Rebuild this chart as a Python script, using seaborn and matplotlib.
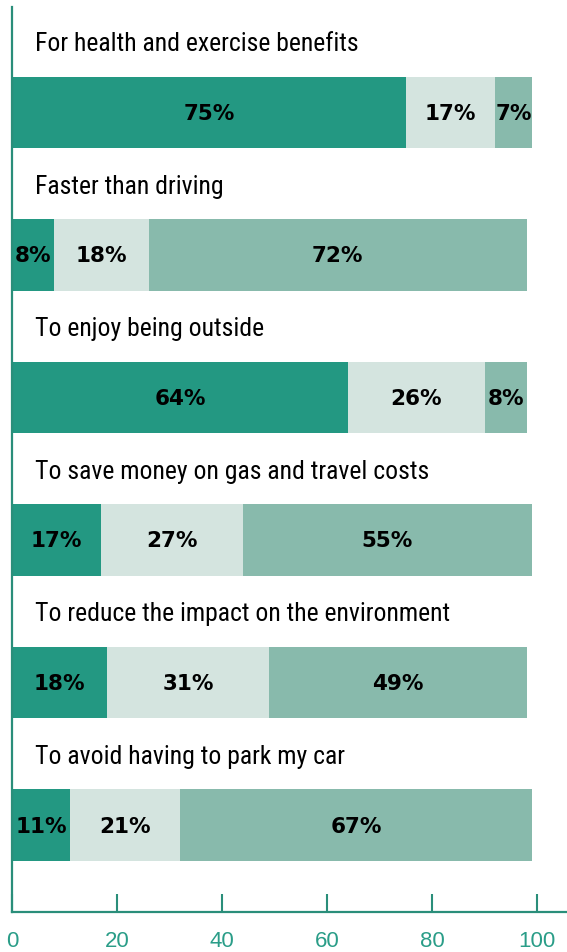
import numpy as np
import pandas as pd
import seaborn as sns
import matplotlib.pyplot as plt
from matplotlib import font_manager

# reasons for walking / biking, share of answers per segment
reasons = [
    "For health and exercise benefits",
    "Faster than driving",
    "To enjoy being outside",
    "To save money on gas and travel costs",
    "To reduce the impact on the environment",
    "To avoid having to park my car",
]
major = [75, 8, 64, 17, 18, 11]
minor = [17, 18, 26, 27, 31, 21]
not_reason = [7, 72, 8, 55, 49, 67]
ticks = [0, 20, 40, 60, 80, 100]

dark = "#239882"
light = "#D4E4DF"
mid = "#88BAAC"
teal_axis = "#2A8E7A"
teal_text = "#2A9D88"

df = pd.DataFrame({"reason": reasons, "a": major, "b": minor, "c": not_reason})
df["ab"] = df["a"] + df["b"]
df["abc"] = df["ab"] + df["c"]

# pick a narrow face for the category titles if one is installed
fonts = font_manager.fontManager.ttflist
names = {f.name for f in fonts}
label_font = dict(family=["Roboto", "DejaVu Sans"], fontsize=15.5)
for cand in ["Liberation Sans Narrow", "Roboto Condensed", "Open Sans Condensed"]:
    if cand in names:
        label_font = dict(family=[cand, "DejaVu Sans"], fontsize=18.5)
        break
else:
    if any(f.name == "DejaVu Sans" and "condensed" in str(f.stretch) for f in fonts):
        label_font = dict(family=["DejaVu Sans"], fontstretch="condensed", fontsize=17)

sns.set_style("white")
plt.rcParams["font.family"] = ["DejaVu Sans"]

fig = plt.figure(figsize=(5.67, 9.52), dpi=100)
ax = fig.add_axes([12 / 567, 0.0423, 1 - 12 / 567, 0.9503])

# stacked bars drawn as overlaid cumulative totals
for col, c in [("abc", mid), ("ab", light), ("a", dark)]:
    sns.barplot(data=df, x=col, y="reason", order=reasons, orient="h",
                color=c, saturation=1, width=0.5, linewidth=0, ax=ax)

# segment labels
for i, row in df.iterrows():
    starts = [0, row["a"], row["ab"]]
    for s, v in zip(starts, [row["a"], row["b"], row["c"]]):
        ax.text(s + v / 2, i + 0.01, f"{v}%", ha="center", va="center",
                fontsize=15.5, fontweight="bold", color="black")
    ax.text(4.4, i - 0.43, row["reason"], ha="left", va="baseline",
            color="black", **label_font)

ax.set_xlim(0, 105.7)
ax.set_ylim(5.608, -0.74)
ax.set_xticks(ticks)
ax.set_xticklabels([str(t) for t in ticks], color=teal_text, fontsize=16,
                   family=["Liberation Sans", "DejaVu Sans"])
ax.tick_params(axis="x", direction="in", length=13, width=1.5, color=teal_axis,
               pad=14, bottom=True)
ax.tick_params(axis="y", left=False, labelleft=False)
ax.set_xlabel("")
ax.set_ylabel("")
for side in ["top", "right"]:
    ax.spines[side].set_visible(False)
for side in ["left", "bottom"]:
    ax.spines[side].set_color(teal_axis)
    ax.spines[side].set_linewidth(1.6)

fig.savefig("out.png", dpi=100)
